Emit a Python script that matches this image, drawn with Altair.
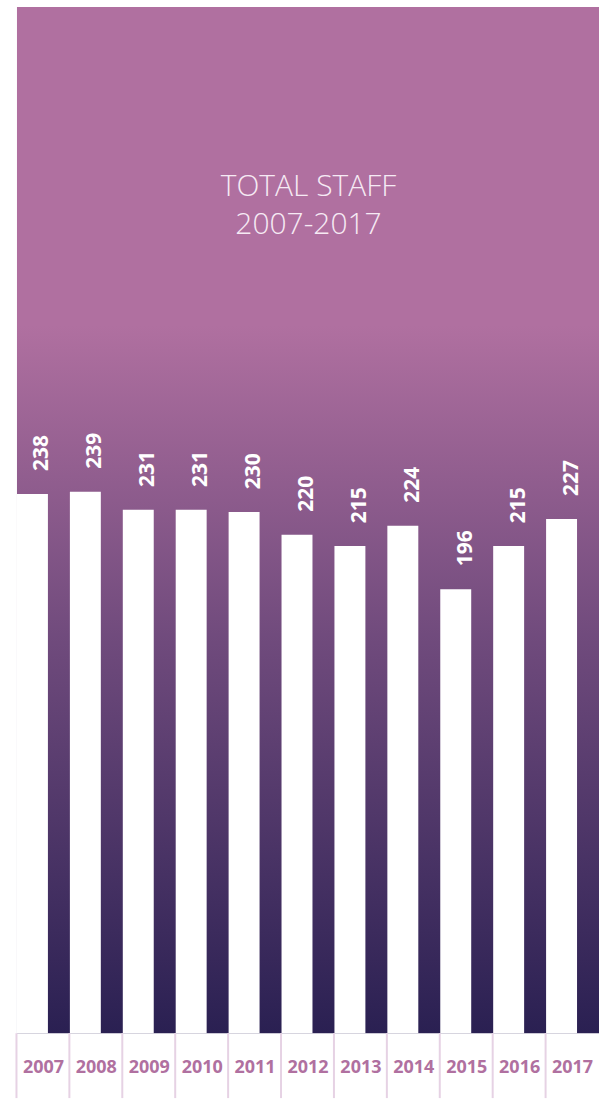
import altair as alt
import pandas as pd

years = ["2007", "2008", "2009", "2010", "2011", "2012", "2013", "2014", "2015", "2016", "2017"]
staff = [238, 239, 231, 231, 230, 220, 215, 224, 196, 215, 227]
title_lines = ["TOTAL STAFF", "2007-2017"]

df = pd.DataFrame({"year": years, "staff": staff})

W = 583
H = 1028
PURPLE = "#B070A0"

xenc = alt.X("year:N", sort=years,
             scale=alt.Scale(paddingInner=0, paddingOuter=0),
             axis=alt.Axis(title=None, ticks=False, domain=False, grid=False,
                           labelAngle=0, labelFont="Open Sans", labelFontWeight="bold",
                           labelFontSize=18, labelColor=PURPLE, labelPadding=25))
yenc = alt.Y("staff:Q", scale=alt.Scale(domain=[0, 453], nice=False, zero=True), axis=None)

gradient = alt.LinearGradient(
    gradient="linear",
    stops=[
        alt.GradientStop(color="#B070A0", offset=0),
        alt.GradientStop(color="#B070A0", offset=0.31),
        alt.GradientStop(color="#6F4A7C", offset=0.62),
        alt.GradientStop(color="#2A2052", offset=1),
    ],
    x1=0, x2=0, y1=0, y2=1,
)

bg = alt.Chart(alt.Data(values=[{"a": 1}])).mark_rect(fill=gradient, strokeWidth=0).encode(
    x=alt.value(0), x2=alt.value(W), y=alt.value(0), y2=alt.value(H)
)

bars = alt.Chart(df).mark_bar(color="#FFFFFF", width=31, xOffset=-11).encode(
    x=xenc, y=yenc
)

labels = alt.Chart(df).mark_text(
    angle=270, align="left", baseline="top", xOffset=-12, yOffset=-23,
    font="Open Sans", fontWeight="bold", fontSize=21, color="#FFFFFF"
).encode(x=alt.X("year:N", sort=years), y=alt.Y("staff:Q"), text=alt.Text("staff:Q"))

ticks = alt.Chart(df).mark_rule(color="#E6D2E4", strokeWidth=2, xOffset=-27).encode(
    x=alt.X("year:N", sort=years), y=alt.value(H), y2=alt.value(H + 65)
)

title = alt.Chart(alt.Data(values=[{"t": title_lines}])).mark_text(
    align="center", baseline="alphabetic", font="Open Sans", fontWeight=300,
    fontSize=30, lineHeight=38, color="#F6EAF4"
).encode(x=alt.value(292), y=alt.value(189), text="t:N")

chart = alt.layer(bg, bars, labels, ticks, title).properties(
    width=W, height=H,
    autosize=alt.AutoSizeParams(type="none"),
    padding={"left": 17, "top": 6, "right": 0, "bottom": 65},
    background="#FFFFFF",
).configure_view(stroke=None)

chart.save("out.html", embed_options={"renderer": "svg", "actions": False})
